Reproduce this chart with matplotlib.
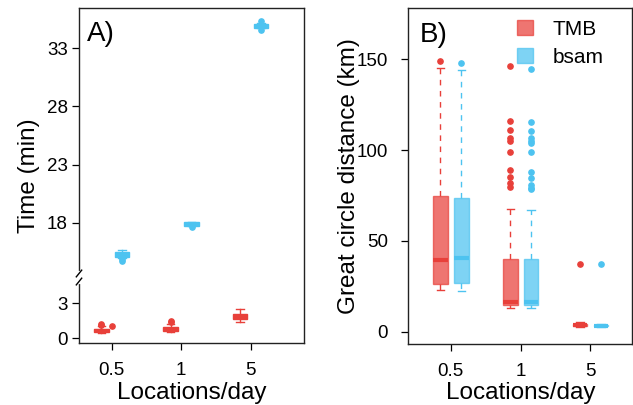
import matplotlib
matplotlib.use("Agg")
import matplotlib.pyplot as plt
from matplotlib.patches import Patch
import numpy as np

plt.rcParams['font.family'] = ['Liberation Sans', 'DejaVu Sans']

RED = '#E8403A'
BLUE = '#4DC3F0'

groups = ['0.5', '1', '5']
methods = ['TMB', 'bsam']

# Panel A: run time (min), box stats per location rate
tmb_time_q1 = [0.55, 0.62, 1.60]
tmb_time_med = [0.65, 0.75, 1.85]
tmb_time_q3 = [0.80, 0.95, 2.10]
tmb_time_lo = [0.45, 0.55, 1.35]
tmb_time_hi = [1.00, 1.20, 2.50]
tmb_time_out = [[1.10, 1.20], [1.35, 1.50], []]
tmb_time_extra = [1.0]  # stray point drawn at the 0.5 tick

bsam_time_q1 = [15.10, 17.70, 34.78]
bsam_time_med = [15.25, 17.90, 34.92]
bsam_time_q3 = [15.45, 18.05, 35.06]
bsam_time_lo = [14.95, 17.70, 34.70]
bsam_time_hi = [15.65, 18.10, 35.20]
bsam_time_out = [[14.70, 14.85], [17.60], [34.60, 35.35]]

# Panel B: great circle distance (km)
tmb_dist_q1 = [26.1, 14.7, 3.0]
tmb_dist_med = [39.5, 16.0, 3.4]
tmb_dist_q3 = [74.7, 40.0, 4.0]
tmb_dist_lo = [23.0, 13.2, 2.5]
tmb_dist_hi = [145.4, 67.4, 5.0]
tmb_dist_out = [[149.0],
                [146.3, 116.0, 111.1, 106.5, 105.2, 99.0, 89.0, 85.4, 82.0, 79.8],
                [37.1]]

bsam_dist_q1 = [26.6, 14.7, 3.0]
bsam_dist_med = [40.8, 16.5, 3.3]
bsam_dist_q3 = [73.8, 40.0, 3.8]
bsam_dist_lo = [22.6, 13.0, 2.6]
bsam_dist_hi = [144.0, 67.0, 4.2]
bsam_dist_out = [[148.3],
                 [145.0, 115.3, 110.5, 106.8, 105.2, 104.1, 99.0, 88.0, 84.8, 80.8, 79.3, 78.4],
                 [37.1]]


def make_stats(q1, med, q3, lo, hi, out):
    return [dict(q1=a, med=b, q3=c, whislo=d, whishi=e, fliers=f)
            for a, b, c, d, e, f in zip(q1, med, q3, lo, hi, out)]


def draw_boxes(ax, stats, pos, color, alpha, ls, medlw):
    ax.bxp(stats, positions=pos, widths=0.21, patch_artist=True, manage_ticks=False,
           boxprops=dict(facecolor=color, edgecolor=color, alpha=alpha, linewidth=1),
           medianprops=dict(color=color, linewidth=medlw, solid_capstyle='butt'),
           whiskerprops=dict(color=color, linestyle=ls, linewidth=1),
           capprops=dict(color=color, linewidth=1),
           flierprops=dict(marker='o', markerfacecolor=color, markeredgecolor=color,
                           markersize=3.8, linestyle='none'))


def style_axes(ax, ypad):
    for s in ax.spines.values():
        s.set_color('#222222')
        s.set_linewidth(1.0)
    ax.tick_params(axis='both', direction='out', length=5, width=0.9,
                   labelsize=13.5, colors='black')
    ax.tick_params(axis='x', pad=9)
    ax.tick_params(axis='y', pad=ypad)
    ax.set_xticks(x)
    ax.set_xticklabels(groups)
    ax.set_xlabel('Locations/day', fontsize=17.5, labelpad=1.5)


x = np.arange(1, len(groups) + 1)
off = 0.15

fig = plt.figure(figsize=(6.33, 4.05), dpi=100)
axA = fig.add_axes([0.1248, 0.153, 0.3555, 0.827])
axB = fig.add_axes([0.645, 0.151, 0.354, 0.829])

# broken y axis for panel A via a function scale
cut_lo, cut_hi = 5.2, 13.3
gap = cut_hi - cut_lo


def fwd(v):
    v = np.asarray(v, dtype=float)
    return np.where(v <= cut_lo, v, np.where(v >= cut_hi, v - gap, cut_lo))


def inv(y):
    y = np.asarray(y, dtype=float)
    return np.where(y <= cut_lo, y, y + gap)


axA.set_yscale('function', functions=(fwd, inv))
draw_boxes(axA, make_stats(tmb_time_q1, tmb_time_med, tmb_time_q3, tmb_time_lo,
                           tmb_time_hi, tmb_time_out), x - off, RED, 1.0, '-', 1.5)
draw_boxes(axA, make_stats(bsam_time_q1, bsam_time_med, bsam_time_q3, bsam_time_lo,
                           bsam_time_hi, bsam_time_out), x + off, BLUE, 1.0, '-', 1.5)
axA.plot([x[0]] * len(tmb_time_extra), tmb_time_extra, 'o', color=RED, markersize=3.8)
axA.set_xlim(0.53, 3.77)
axA.set_ylim(-0.43, 36.45)
axA.set_yticks([0, 3, 18, 23, 28, 33])
axA.set_yticklabels(['0', '3', '18', '23', '28', '33'])
axA.yaxis.set_minor_locator(matplotlib.ticker.NullLocator())
axA.set_ylabel('Time (min)', fontsize=17.5, labelpad=5)
style_axes(axA, 3)
axA.text(0.035, 0.96, 'A)', transform=axA.transAxes, fontsize=20, va='top', ha='left')

# break marks on left spine
yb = (cut_lo + 0.43) / (36.45 - gap + 0.43)
axA.plot([0, 0], [yb - 0.012, yb + 0.012], color='white', linewidth=3,
         transform=axA.transAxes, clip_on=False, zorder=5)
for dy in (-0.012, 0.012):
    axA.plot([-0.012, 0.012], [yb + dy - 0.01, yb + dy + 0.01], color='black',
             linewidth=1.0, transform=axA.transAxes, clip_on=False, zorder=6)

# panel B
draw_boxes(axB, make_stats(tmb_dist_q1, tmb_dist_med, tmb_dist_q3, tmb_dist_lo,
                           tmb_dist_hi, tmb_dist_out), x - off, RED, 0.72, (0, (4, 4)), 3)
draw_boxes(axB, make_stats(bsam_dist_q1, bsam_dist_med, bsam_dist_q3, bsam_dist_lo,
                           bsam_dist_hi, bsam_dist_out), x + off, BLUE, 0.72, (0, (4, 4)), 3)
axB.set_xlim(0.39, 3.6)
axB.set_ylim(-6.8, 178.3)
axB.set_yticks([0, 50, 100, 150])
axB.set_ylabel('Great circle distance (km)', fontsize=17.5, labelpad=-2)
style_axes(axB, 9.5)
axB.text(0.05, 0.96, 'B)', transform=axB.transAxes, fontsize=20, va='top', ha='left')

handles = [Patch(facecolor=RED, edgecolor=RED, alpha=0.72, label=methods[0]),
           Patch(facecolor=BLUE, edgecolor=BLUE, alpha=0.72, label=methods[1])]
axB.legend(handles=handles, loc='upper left', bbox_to_anchor=(0.43, 1.003), frameon=False,
           fontsize=15, handlelength=0.75, handleheight=0.75, handletextpad=0.95,
           labelspacing=0.45, borderaxespad=0.2)

fig.savefig('out.png', dpi=100)
